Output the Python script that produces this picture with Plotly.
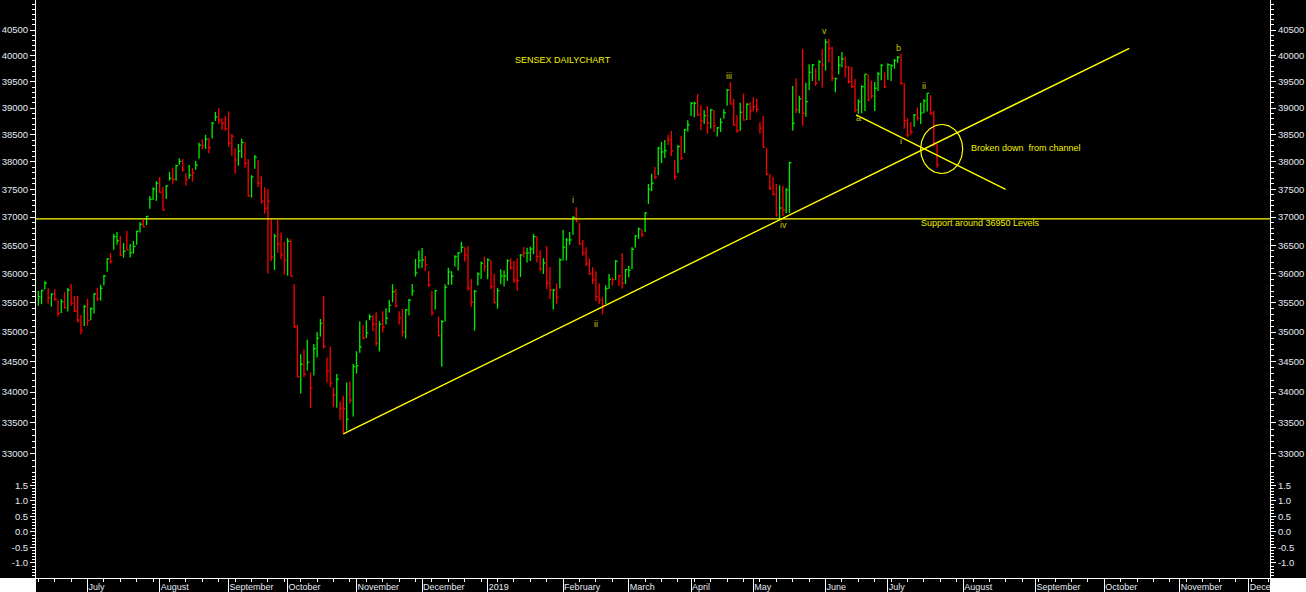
import base64
import numpy as np
import plotly.graph_objects as go

# ---------------- data (SENSEX daily bars) ----------------
high = [
    35704, 35727, 35877, 35751, 35664, 35734, 35548, 35566, 35682, 35756,
    35825, 35617, 35617, 35293, 35463, 35566, 35423, 35670, 35756, 35808,
    35981, 36273, 36360, 36700, 36736, 36665, 36540, 36754, 36523, 36576,
    36758, 36913, 36948, 37020, 37380, 37536, 37650, 37723, 37541, 37580,
    37817, 37894, 37949, 38067, 38055, 37792, 37943, 37883, 38017, 38352,
    38419, 38500, 38443, 38740, 38927, 39002, 38810, 38853, 38940, 38517,
    38252, 38332, 38426, 38364, 38048, 37757, 38128, 38035, 37739, 37536,
    37505, 36961, 36700, 36948, 36724, 36558, 36629, 36611, 35825, 35122,
    34630, 34718, 34870, 34328, 34802, 35003, 35225, 35617, 34572, 34752,
    34074, 34301, 33845, 33943, 34157, 34177, 34467, 34679, 35186, 35117,
    35202, 35305, 35288, 35339, 35186, 35356, 35407, 35548, 35820, 35739,
    35356, 35395, 35395, 35566, 35825, 36260, 36406, 36453, 36313, 36051,
    35704, 35721, 35264, 35208, 35820, 36108, 36045, 36325, 36378, 36559,
    36465, 36488, 35912, 35721, 36028, 36213, 36301, 36273, 36238, 36003,
    35756, 36080, 36063, 36255, 36273, 36226, 36273, 36343, 36470, 36458,
    36476, 36700, 36665, 36413, 36273, 36488, 36121, 35739, 35837, 36273,
    36775, 36629, 36735, 37014, 37175, 36895, 36594, 36465, 36266, 36115,
    36045, 35837, 35595, 35803, 35998, 35941, 36238, 35986, 36360, 36085,
    36138, 36465, 36683, 36812, 36784, 37092, 37597, 37785, 37907, 38276,
    38369, 38406, 38498, 38573, 38035, 38313, 38480, 38610, 38772, 39116,
    39122, 39267, 39053, 38965, 39040, 38983, 38965, 38648, 38815, 38978,
    39363, 39491, 39173, 38866, 39103, 39274, 39091, 39110, 39205, 39179,
    38735, 38853, 38252, 37775, 37725, 37597, 37573, 37566, 37524, 38004,
    39420, 39567, 39236, 40130, 39483, 39835, 39841, 39759, 39918, 40130,
    40325, 40325, 40175, 39579, 39994, 40072, 39981, 39803, 39789, 39554,
    39168, 39433, 39649, 39649, 39521, 39496, 39693, 39835, 39682, 39854,
    39835, 39937, 39994, 40033, 39472, 38815, 38741, 38890, 39013, 39103,
    39173, 39287, 39243, 38946, 38331,
]
low = [
    35451, 35480, 35727, 35485, 35434, 35537, 35264, 35326, 35400, 35350,
    35451, 35345, 35165, 34965, 35105, 35110, 35201, 35315, 35531, 35537,
    35796, 36038, 36180, 36423, 36511, 36318, 36283, 36412, 36283, 36353,
    36511, 36724, 36819, 36854, 37150, 37307, 37290, 37440, 37120, 37325,
    37657, 37600, 37657, 37949, 37823, 37565, 37690, 37638, 37858, 38060,
    38234, 38240, 38160, 38430, 38759, 38709, 38591, 38578, 38278, 38115,
    37785, 37931, 38073, 37894, 37367, 37349, 37876, 37542, 37241, 37061,
    36004, 36226, 36068, 36365, 36255, 35986, 35969, 35952, 35077, 34240,
    33976, 34245, 34356, 33738, 34273, 34572, 34925, 34723, 34157, 34091,
    33754, 33743, 33547, 33317, 33375, 33813, 33601, 34306, 34654, 34881,
    34903, 35202, 35020, 34768, 34676, 34992, 35128, 35332, 35509, 35424,
    35128, 34925, 34891, 35281, 35622, 35952, 36091, 36108, 36051, 35773,
    35281, 35383, 34925, 34422, 35179, 35808, 35813, 36126, 36056, 36371,
    36213, 35709, 35434, 35026, 35796, 35912, 36038, 35907, 35739, 35492,
    35400, 35820, 35779, 35877, 36073, 35843, 35709, 35946, 36283, 36196,
    36226, 36343, 36196, 36045, 35998, 35739, 35566, 35383, 35485, 35744,
    36231, 36231, 36511, 36688, 36913, 36511, 36318, 36138, 35976, 35825,
    35526, 35480, 35304, 35480, 35739, 35796, 35894, 35791, 35744, 35825,
    35941, 36085, 36460, 36612, 36642, 36736, 37236, 37469, 37688, 37761,
    37980, 38072, 38312, 38104, 37675, 37798, 38035, 38165, 38560, 38852,
    38828, 38852, 38592, 38703, 38522, 38616, 38554, 38467, 38554, 38802,
    39046, 39072, 38672, 38541, 38578, 38765, 38778, 38778, 38940, 38916,
    38522, 38263, 37757, 37487, 37392, 37007, 36961, 37020, 37068, 37068,
    38578, 38900, 38903, 38666, 38840, 39344, 39515, 39426, 39521, 39388,
    39713, 39874, 39510, 39300, 39644, 39778, 39579, 39464, 39382, 38916,
    38896, 38903, 38945, 39130, 39186, 38946, 39325, 39529, 39376, 39540,
    39515, 39751, 39866, 39445, 38616, 38456, 38504, 38653, 38765, 38703,
    38903, 38937, 38871, 38282, 37894,
]
close = [
    35605, 35710, 35837, 35588, 35647, 35560, 35321, 35519, 35417, 35720,
    35492, 35355, 35206, 35032, 35434, 35200, 35400, 35652, 35570, 35750,
    35964, 36260, 36214, 36652, 36576, 36325, 36395, 36420, 36370, 36482,
    36748, 36872, 36830, 37014, 37320, 37505, 37610, 37447, 37130, 37560,
    37700, 37680, 37931, 38010, 37850, 37682, 37757, 37798, 37938, 38310,
    38291, 38419, 38265, 38716, 38834, 38778, 38716, 38615, 38345, 38474,
    38035, 38197, 38357, 37975, 37385, 37726, 38085, 37610, 37284, 37158,
    37284, 36290, 36659, 36523, 36330, 36237, 36571, 35964, 35090, 34259,
    34462, 34295, 34495, 34070, 34723, 34898, 35151, 34757, 34351, 34147,
    33954, 34214, 33738, 33726, 33559, 33868, 34422, 34434, 34752, 34898,
    34987, 35264, 35137, 34814, 35137, 35090, 35237, 35457, 35692, 35446,
    35242, 34998, 35378, 35543, 35704, 36016, 36231, 36243, 36156, 35808,
    35322, 35709, 34941, 35179, 35768, 36033, 35958, 36301, 36365, 36465,
    36330, 35751, 35509, 35699, 35998, 36185, 36126, 36243, 35779, 35502,
    35709, 35964, 35964, 36226, 36108, 35894, 35882, 36330, 36365, 36365,
    36435, 36652, 36301, 36091, 36191, 35837, 35721, 35721, 35595, 36243,
    36465, 36594, 36594, 36996, 36926, 36523, 36360, 36173, 36003, 35894,
    35606, 35548, 35451, 35744, 35907, 35900, 36220, 35969, 35837, 36073,
    36063, 36430, 36665, 36789, 36683, 37074, 37500, 37610, 37723, 38252,
    38183, 38207, 38406, 38202, 37730, 38282, 38067, 38592, 38685, 39091,
    39091, 38877, 38759, 38858, 38722, 38965, 38666, 38629, 38735, 38914,
    39344, 39078, 38678, 38578, 38922, 38778, 39072, 38950, 39027, 38978,
    38623, 38270, 37775, 37518, 37410, 37043, 37164, 37128, 37487, 37985,
    38716, 38965, 39173, 38903, 39122, 39682, 39822, 39472, 39879, 39816,
    40261, 40144, 39567, 39559, 39816, 39937, 39783, 39502, 39407, 38965,
    39122, 39407, 39644, 39154, 39230, 39376, 39649, 39816, 39407, 39828,
    39808, 39904, 39969, 39472, 38765, 38498, 38560, 38871, 38810, 38909,
    39135, 39281, 38903, 38344, 37944,
]
# U = up day (green bar), D = down day (red bar)
day_direction = (
    "UUUDUDDUDU" "DDDDUDUUDU" "UUDUUDUDUU" "UUDUUUUDDU" "UDUUDDUDUU"
    "DUDUUDDDDD" "DUUDDUUDDD" "DDUDDDUDDD" "UDUDUUUDDD" "DUDDUDUUUD"
    "UUDDUDUUUD" "DDUUUUUUDD" "DUDUUUUUUU" "DDDUUUDUDD" "UUUUDDDUDU"
    "UUDDUDDUDU" "UUUUDDDDDD" "DDDUUDUDDU" "UUUUDUUUDU" "UUDDDUDUUU"
    "UDDUDUDUUU" "UDDDUDUDDD" "DDDDDDUDUU" "UDUDUUUDUD" "UDDUUUDDDD"
    "UUUDDUUUDU" "UUUDDDDUDU" "UUDDD"
)

# month labels on the time axis and the bar index where each month starts
month_names = ["July", "August", "September", "October", "November", "December",
               "2019", "February", "March", "April", "May", "June",
               "July", "August", "September", "October", "November", "December"]
month_start_bar = [15, 37, 58, 76, 97, 117, 137, 160, 180, 199, 218, 240,
                   259, 282, 304, 325, 348, 369]

# drawn studies
support_level = 36970
trend_bars = [93.0, 332.6]
trend_values = [33320, 40144]
channel_bars = [249.3, 294.9]
channel_values = [38871, 37500]
circle_bar, circle_value = 275.4, 38238

wave_labels = ["i", "ii", "iii", "iv", "v", "a", "b", "i", "ii"]
wave_bars = [163.1, 170.0, 210.6, 227.2, 239.6, 250.0, 262.3, 262.9, 270.0]
wave_values = [37316, 35143, 39610, 36859, 40480, 38809, 40149, 38382, 39419]

price_ticks = list(range(33000, 40501, 500))
price_minor = list(range(32700, 41101, 100))
osc_ticks = [-1.0, -0.5, 0.0, 0.5, 1.0, 1.5]
osc_minor = [round(v, 1) for v in np.arange(-1.4, 1.85, 0.1)]

# ---------------- figure ----------------
W, H = 1306, 592
ML, MR, MT, MB = 36, 36, 0, 14
split = 0.18
x_range = [-0.7, 375.5]
y_range = [4.514319, 4.613748]
osc_range = [-1.484, 1.871]
PX_PER_BAR = (W - ML - MR) / (x_range[1] - x_range[0])
PX_PER_LOG = (H - MT - MB) * (1 - split) / (y_range[1] - y_range[0])

TXT = "#e4eaf4"
FONT = "Liberation Sans, Arial, sans-serif"
GREEN = "#00ee00"
RED = "#ff0000"
YELLOW = "#ffff00"


def bar_path(direction):
    xs, ys = [], []
    for i, (h, l, c, d) in enumerate(zip(high, low, close, day_direction)):
        if d != direction:
            continue
        xs += [i, i, None, i, i + 0.6, None]
        ys += [l, h, None, c, c, None]
    return xs, ys


fig = go.Figure()
for direction, colour in (("U", GREEN), ("D", RED)):
    bx, by = bar_path(direction)
    fig.add_trace(go.Scatter(x=bx, y=by, mode="lines",
                             line=dict(color=colour, width=1.3),
                             hoverinfo="skip", showlegend=False))

# support line across the whole chart
fig.add_trace(go.Scatter(x=x_range, y=[support_level, support_level], mode="lines",
                         line=dict(color=YELLOW, width=1.2),
                         hoverinfo="skip", showlegend=False))
fig.add_trace(go.Scatter(x=trend_bars, y=trend_values, mode="lines",
                         line=dict(color=YELLOW, width=1.4),
                         hoverinfo="skip", showlegend=False))
fig.add_trace(go.Scatter(x=channel_bars, y=channel_values, mode="lines",
                         line=dict(color=YELLOW, width=1.4),
                         hoverinfo="skip", showlegend=False))

# ellipse round the breakdown point (about 42 x 49 px)
theta = np.linspace(0, 2 * np.pi, 121)
half_w = 21 / PX_PER_BAR
half_h = 24.5 / PX_PER_LOG
ell_x = circle_bar + half_w * np.cos(theta)
ell_y = 10 ** (np.log10(circle_value) + half_h * np.sin(theta))
fig.add_trace(go.Scatter(x=ell_x, y=ell_y, mode="lines",
                         line=dict(color=YELLOW, width=1.2),
                         hoverinfo="skip", showlegend=False))

# invisible anchors for the mirrored axes
fig.add_trace(go.Scatter(x=[0], y=[close[0]], yaxis="y3", mode="markers",
                         marker=dict(opacity=0), hoverinfo="skip", showlegend=False))
fig.add_trace(go.Scatter(x=[0], y=[0], yaxis="y2", mode="markers",
                         marker=dict(opacity=0), hoverinfo="skip", showlegend=False))
fig.add_trace(go.Scatter(x=[0], y=[0], yaxis="y4", mode="markers",
                         marker=dict(opacity=0), hoverinfo="skip", showlegend=False))
fig.add_trace(go.Scatter(x=[0], y=[0], xaxis="x2", yaxis="y2", mode="markers",
                         marker=dict(opacity=0), hoverinfo="skip", showlegend=False))

tickfont = dict(family=FONT, size=9.5, color=TXT)


def price_axis(side, overlay=None):
    d = dict(type="log", range=y_range, domain=[split, 1], anchor="x", side=side,
             tickmode="array", tickvals=price_ticks,
             ticktext=[str(v) for v in price_ticks],
             ticks="outside", ticklen=5, tickwidth=1, tickcolor="white",
             tickfont=tickfont, showline=True, linecolor="white", linewidth=1,
             showgrid=False, zeroline=False, fixedrange=True, automargin=False,
             minor=dict(tickmode="array", tickvals=price_minor, ticks="outside",
                        ticklen=3, tickwidth=1, tickcolor="white", showgrid=False))
    if overlay:
        d["overlaying"] = overlay
        d.pop("domain")
    return d


def osc_axis(side, overlay=None):
    d = dict(range=osc_range, domain=[0, split], anchor="x", side=side,
             tickmode="array", tickvals=osc_ticks,
             ticktext=[f"{v:.1f}" for v in osc_ticks],
             ticks="outside", ticklen=5, tickwidth=1, tickcolor="white",
             tickfont=tickfont, showline=True, linecolor="white", linewidth=1,
             showgrid=False, zeroline=False, fixedrange=True, automargin=False,
             minor=dict(tickmode="array", tickvals=osc_minor, ticks="outside",
                        ticklen=3, tickwidth=1, tickcolor="white", showgrid=False))
    if overlay:
        d["overlaying"] = overlay
        d.pop("domain")
    return d


fig.update_layout(
    width=W, height=H,
    margin=dict(l=ML, r=MR, t=MT, b=MB, pad=0, autoexpand=False),
    paper_bgcolor="black", plot_bgcolor="black",
    showlegend=False,
    xaxis=dict(range=x_range, anchor="y2", tickmode="array",
               tickvals=month_start_bar, ticktext=month_names,
               ticks="outside", ticklen=3, tickwidth=1, tickcolor="white",
               ticklabelposition="outside right",
               tickfont=dict(family=FONT, size=9, color=TXT),
               showline=True, linecolor="white", linewidth=1,
               showgrid=False, zeroline=False, fixedrange=True, automargin=False,
               minor=dict(tick0=0, dtick=5, ticks="outside", ticklen=3,
                          tickwidth=1, tickcolor="white", showgrid=False)),
    xaxis2=dict(range=x_range, overlaying="x", anchor="y2", side="bottom",
                tickmode="array", tickvals=month_start_bar,
                ticks="outside", ticklen=14, tickwidth=1, tickcolor="white",
                showticklabels=False, showline=False, showgrid=False,
                zeroline=False, fixedrange=True, automargin=False),
    yaxis=price_axis("left"),
    yaxis3=price_axis("right", overlay="y"),
    yaxis2=osc_axis("left"),
    yaxis4=osc_axis("right", overlay="y2"),
)

ann = [
    dict(text="SENSEX DAILYCHART", x=160.0, y=np.log10(39908), xanchor="center",
         yanchor="middle", font=dict(family=FONT, size=9, color="#f2f200")),
    dict(text="Broken down  from channel", x=283.8, y=np.log10(38257), xanchor="left",
         yanchor="middle", font=dict(family=FONT, size=9, color="#f2f200")),
    dict(text="Support around 36950 Levels", x=268.6, y=np.log10(36895), xanchor="left",
         yanchor="middle", font=dict(family=FONT, size=9, color="#f2f200")),
]
for t, b, v in zip(wave_labels, wave_bars, wave_values):
    ann.append(dict(text=t, x=b, y=np.log10(v), xanchor="center", yanchor="middle",
                    font=dict(family=FONT, size=9, color="#c8c800")))
for a in ann:
    a.update(xref="x", yref="y", showarrow=False)
fig.update_layout(annotations=ann)

# white corner blocks below the two price scales
white_svg = ("<svg xmlns='http://www.w3.org/2000/svg' width='4' height='4'>"
             "<rect width='4' height='4' fill='white'/></svg>")
white_src = "data:image/svg+xml;base64," + base64.b64encode(white_svg.encode()).decode()
plot_w, plot_h = W - ML - MR, H - MT - MB
fig.update_layout(images=[
    dict(source=white_src, xref="paper", yref="paper", x=-ML / plot_w, y=0,
         sizex=ML / plot_w, sizey=MB / plot_h, xanchor="left", yanchor="top",
         sizing="stretch", layer="above"),
    dict(source=white_src, xref="paper", yref="paper", x=1, y=0,
         sizex=MR / plot_w, sizey=MB / plot_h, xanchor="left", yanchor="top",
         sizing="stretch", layer="above"),
])

fig.write_html("out.html",
               config={"displayModeBar": False, "staticPlot": True},
               post_script="document.body.style.margin='0px';"
                           "document.body.style.overflow='hidden';")
